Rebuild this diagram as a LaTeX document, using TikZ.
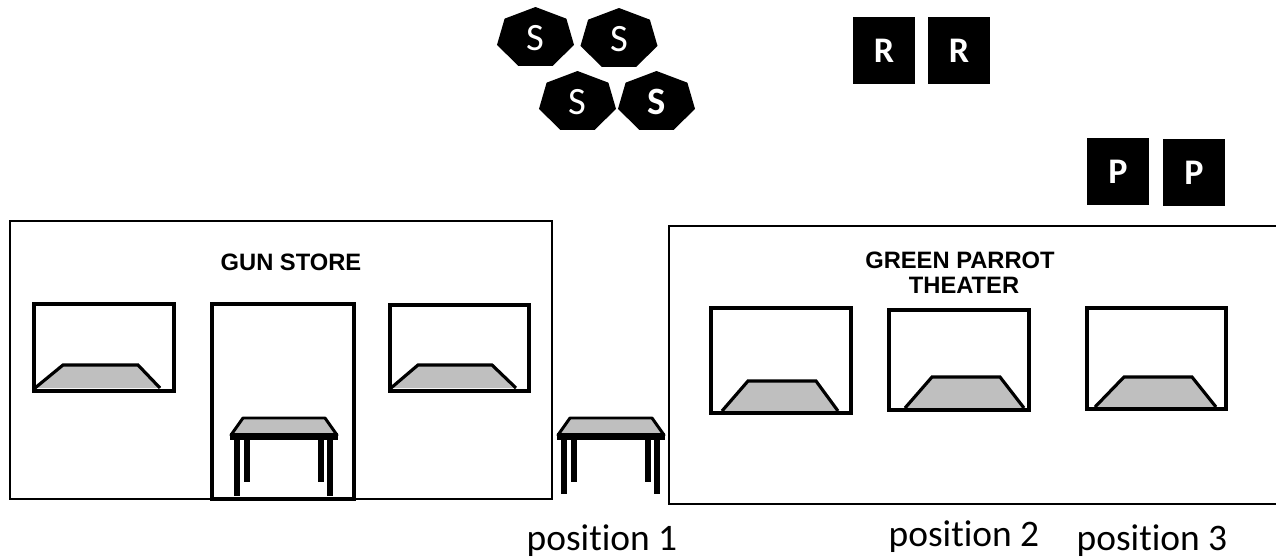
\documentclass[tikz,border=0pt]{standalone}
\usepackage{fontspec}
\setmainfont[Ligatures=NoCommon]{Carlito}
\newfontfamily\signfont{Liberation Sans}
\tikzset{
    wall/.style={line width=1.2pt},
    frame/.style={line width=1.8pt},
    tabletop/.style={fill=black!25, draw=black, line width=1.7pt, line join=round},
    tableleg/.style={fill=black},
    tile/.style={fill=black},
    tilelabel/.style={text=white, font=\fontsize{22}{22}\selectfont},
    squarelabel/.style={text=white, font=\bfseries\fontsize{20.5}{20.5}\selectfont},
    signlabel/.style={font=\signfont\bfseries\fontsize{13.5}{14.3}\selectfont, align=center},
    poslabel/.style={font=\fontsize{21.3}{21.3}\selectfont}
}

\begin{document}
\begin{tikzpicture}[x=0.02cm, y=-0.02cm]
        \useasboundingbox (0, 0) rectangle (1276, 558);
        \pgfmathsetmacro{\radiusX}{39.5}
        \pgfmathsetmacro{\radiusY}{31}

        % buildings
        \draw[wall] (10, 221) rectangle (552, 499);
        \draw[wall] (1276, 226) -- (669, 226) -- (669, 504) -- (1276, 504);
        \draw[frame] (212, 304) rectangle (354, 499);

        % windows with the shade at the bottom
        \foreach \xLeft/\yTop/\xRight/\yBottom/\shadeA/\shadeB/\shadeC/\shadeD/\shadeTop/\shadeBottom in {
            34/304/174/391/35/63/138/160/365/388,
            390/305/529/391/391/418/492/516/365/388,
            711/308/851/413/722/748/816/838/381/411,
            889/310/1029/410/905/932/1000/1024/377/408,
            1087/308/1226/409/1095/1124/1192/1216/377/407}
        {
            \fill[black!25] (\shadeA, \shadeBottom) -- (\shadeB, \shadeTop)
                -- (\shadeC, \shadeTop) -- (\shadeD, \shadeBottom) -- cycle;
            \draw[frame] (\xLeft, \yTop) rectangle (\xRight, \yBottom);
            \draw[frame] (\shadeA, \shadeBottom) -- (\shadeB, \shadeTop)
                -- (\shadeC, \shadeTop) -- (\shadeD, \shadeBottom);
        }

        % tables
        \foreach \shiftX/\legEnd in {0/496, 327/494}
        {
            \begin{scope}[xshift=\shiftX*0.02cm]
                \fill[tableleg] (247-3, 438) rectangle (247+3, 482);
                \fill[tableleg] (321-3, 438) rectangle (321+3, 482);
                \fill[tableleg] (237-3, 438) rectangle (237+3, \legEnd);
                \fill[tableleg] (330-3, 438) rectangle (330+3, \legEnd);
                \draw[tabletop] (243, 418) -- (325, 418) -- (337, 435) -- (231, 435) -- cycle;
                \fill[tableleg] (230, 433) rectangle (338, 440);
            \end{scope}
        }

        % seven sided tiles
        \foreach \name/\centerX/\centerY/\weight in {
            tileA/535.5/38/\mdseries, tileB/619/39/\mdseries,
            tileC/577.5/102/\mdseries, tileD/656.5/102/\bfseries}
        {
            \fill[tile, shift={(\centerX, \centerY)}] plot[samples at={0,...,6}]
                ({\radiusX*cos(90+\x*360/7)}, {-\radiusY*sin(90+\x*360/7)}) -- cycle;
            \node[tilelabel] (\name) at (\centerX, \centerY) {\weight S};
        }

        % square tiles
        \foreach \name/\xLeft/\yTop/\letter in {
            tileR1/853/17/R, tileR2/928/17/R, tileP1/1087/138/P, tileP2/1163/139/P}
        {
            \fill[tile] (\xLeft, \yTop) rectangle ++(62, 67);
            \node[squarelabel] (\name) at (\xLeft+31, \yTop+33.5) {\letter};
        }

        \node[signlabel] (gunStore) at (291, 262) {GUN STORE};
        \node[signlabel] (theater) at (960, 272.5) {GREEN PARROT\\\hspace*{0.16cm}THEATER};

        \node[poslabel] (position1) at (602, 541) {position 1};
        \node[poslabel] (position2) at (964, 537) {position 2};
        \node[poslabel] (position3) at (1152, 541) {position 3};
    \end{tikzpicture}
\end{document}
